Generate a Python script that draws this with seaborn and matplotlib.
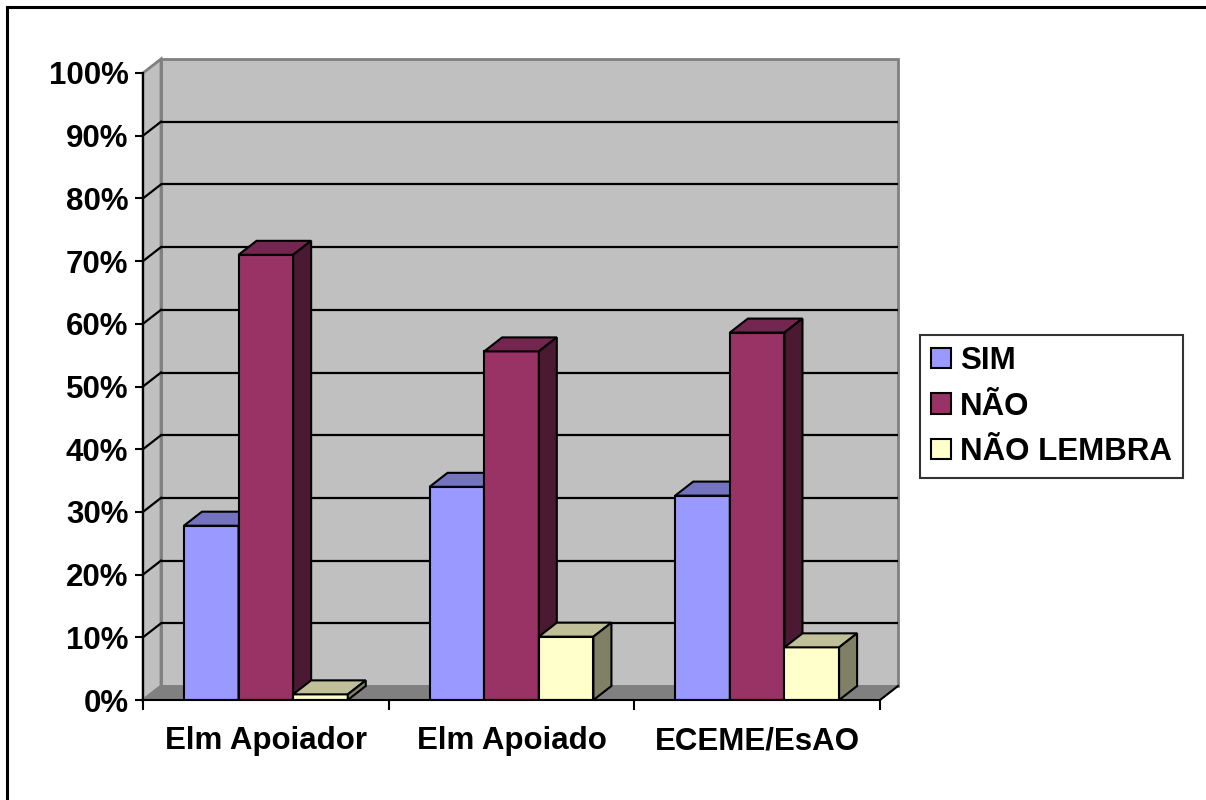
import matplotlib
matplotlib.use("Agg")
import matplotlib.pyplot as plt
from matplotlib.patches import Polygon, Patch, Rectangle
from matplotlib.lines import Line2D
import seaborn as sns
import pandas as pd

# ---- data ----
categories = ["Elm Apoiador", "Elm Apoiado", "ECEME/EsAO"]
series = ["SIM", "NÃO", "NÃO LEMBRA"]
sim = [27.8, 34.0, 32.6]
nao = [71.0, 55.6, 58.6]
nao_lembra = [0.9, 10.1, 8.4]
yticks = [0, 10, 20, 30, 40, 50, 60, 70, 80, 90, 100]
ytick_labels = [f"{v}%" for v in yticks]

# ---- style ----
front_colors = {"SIM": "#9999FF", "NÃO": "#993366", "NÃO LEMBRA": "#FFFFCC"}
top_colors = {"SIM": "#7373BF", "NÃO": "#73264F", "NÃO LEMBRA": "#BFBF99"}
side_colors = {"SIM": "#4D4D80", "NÃO": "#4C1933", "NÃO LEMBRA": "#808066"}
WALL = "#C0C0C0"
FLOOR = "#808080"
EDGE_GRAY = "#808080"
FS = 22.5

W, H, DPI = 1206, 800, 100
AX_L, AX_R, AX_B, AX_T = 143, 880, 700, 73   # pixel frame of the front plane
DEPTH_PX_X, DEPTH_PX_Y = 18, 14

plt.rcParams["font.family"] = ["Liberation Sans", "DejaVu Sans"]
plt.rcParams["font.weight"] = "bold"

fig = plt.figure(figsize=(W / DPI, H / DPI), dpi=DPI)
ax = fig.add_axes([AX_L / W, (H - AX_B) / H, (AX_R - AX_L) / W, (AX_B - AX_T) / H])

rows = []
for c, a, b, d in zip(categories, sim, nao, nao_lembra):
    rows += [(c, "SIM", a), (c, "NÃO", b), (c, "NÃO LEMBRA", d)]
df = pd.DataFrame(rows, columns=["cat", "serie", "val"])

sns.barplot(data=df, x="cat", y="val", hue="serie", order=categories,
            hue_order=series, palette=front_colors, width=0.667,
            saturation=1, edgecolor="black", linewidth=1.5,
            errorbar=None, legend=False, ax=ax)

xmin, xmax = -0.5, len(categories) - 0.5
ymin, ymax = 0, 100
ax.set_xlim(xmin, xmax)
ax.set_ylim(ymin, ymax)
dx = DEPTH_PX_X * (xmax - xmin) / (AX_R - AX_L)
dy = DEPTH_PX_Y * (ymax - ymin) / (AX_B - AX_T)

# walls and floor
ax.add_patch(Polygon([(xmin, 0), (xmax, 0), (xmax + dx, dy), (xmin + dx, dy)],
                     closed=True, facecolor=FLOOR, edgecolor=EDGE_GRAY, lw=1,
                     zorder=0.5, clip_on=False))
ax.add_patch(Rectangle((xmin + dx, dy), xmax - xmin, ymax - ymin,
                       facecolor=WALL, edgecolor=EDGE_GRAY, lw=2,
                       zorder=0.4, clip_on=False))
ax.add_patch(Polygon([(xmin, 0), (xmin + dx, dy), (xmin + dx, ymax + dy), (xmin, ymax)],
                     closed=True, facecolor=WALL, edgecolor=EDGE_GRAY, lw=2,
                     zorder=0.45, clip_on=False))
for v in yticks[1:-1]:
    ax.plot([xmin + dx, xmax + dx], [v + dy, v + dy], color="black", lw=1.6,
            zorder=0.6, clip_on=False, solid_capstyle="butt")
    ax.plot([xmin, xmin + dx], [v, v + dy], color="black", lw=1.6,
            zorder=0.6, clip_on=False)
ax.plot([xmax, xmax + dx], [0, dy], color="black", lw=1.5, zorder=0.7, clip_on=False)

# 3D faces for the bars
bars = sorted([p for p in ax.patches if isinstance(p, Rectangle) and p.get_width() < 1
               and p.get_height() > 0 and p.get_zorder() > 0.9],
              key=lambda p: p.get_x())
n_s = len(series)
for i, p in enumerate(bars):
    x0, w, h = p.get_x(), p.get_width(), p.get_height()
    center = x0 + w / 2
    cat_idx = round(center)
    s_idx = min(n_s - 1, max(0, int((center - cat_idx + 0.667 / 2) / (0.667 / n_s))))
    s = series[s_idx]
    base = 10 + 3 * i
    p.set_zorder(base)
    ax.add_patch(Polygon([(x0, h), (x0 + w, h), (x0 + w + dx, h + dy), (x0 + dx, h + dy)],
                         closed=True, facecolor=top_colors[s], edgecolor="black",
                         lw=1.5, zorder=base + 1, clip_on=False))
    ax.add_patch(Polygon([(x0 + w, 0), (x0 + w + dx, dy), (x0 + w + dx, h + dy), (x0 + w, h)],
                         closed=True, facecolor=side_colors[s], edgecolor="black",
                         lw=1.5, zorder=base + 2, clip_on=False))

# axes styling
for sp in ["top", "right"]:
    ax.spines[sp].set_visible(False)
for sp in ["left", "bottom"]:
    ax.spines[sp].set_linewidth(1.5)
    ax.spines[sp].set_color("black")
    ax.spines[sp].set_zorder(50)
ax.set_facecolor("none")
ax.set_xlabel("")
ax.set_ylabel("")

ax.set_yticks(yticks, labels=ytick_labels)
ax.tick_params(axis="y", direction="out", length=5.5, width=1.5, pad=5,
               labelsize=FS)
ax.set_xticks([xmin + k for k in range(len(categories) + 1)],
              labels=[""] * (len(categories) + 1))
ax.set_xticks(range(len(categories)), labels=categories, minor=True)
ax.tick_params(axis="x", which="major", direction="out", length=7, width=1.5)
ax.tick_params(axis="x", which="minor", length=0, pad=19, labelsize=FS)
for t in ax.get_xticklabels(minor=True) + ax.get_yticklabels():
    t.set_fontweight("bold")

# legend
handles = [Patch(facecolor=front_colors[s], edgecolor="black", lw=1.5, label=s)
           for s in series]
leg = fig.legend(handles=handles, loc="center left",
                 bbox_to_anchor=(920 / W, 1 - 406.5 / H), frameon=True,
                 fancybox=False, edgecolor="black", fontsize=FS,
                 handlelength=0.64, handleheight=0.64, handletextpad=0.3,
                 labelspacing=0.5, borderpad=0.35, borderaxespad=0)
leg.get_frame().set_linewidth(1.5)
for t in leg.get_texts():
    t.set_fontweight("bold")

# outer border (open at right and bottom as in the source)
fig.add_artist(Line2D([7 / W, 7 / W], [0, 1 - 7 / H], transform=fig.transFigure,
                      color="black", lw=2.2))
fig.add_artist(Line2D([7 / W, 1], [1 - 7 / H, 1 - 7 / H], transform=fig.transFigure,
                      color="black", lw=2.2))

fig.savefig("out.png", dpi=DPI, facecolor="white")
